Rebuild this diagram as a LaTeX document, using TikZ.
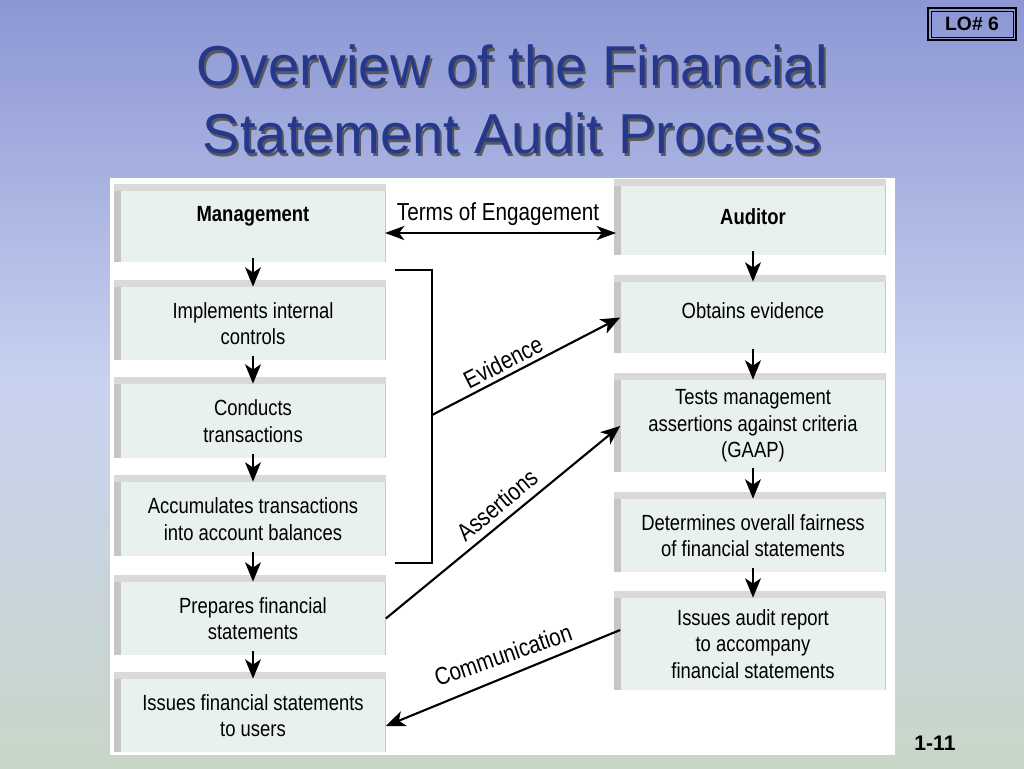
\documentclass[tikz,border=0pt]{standalone}
\usepackage{fontspec}
\setmainfont{Liberation Sans}
\newfontfamily\cond[FakeStretch=0.84]{Liberation Sans}
\usetikzlibrary{arrows.meta}
\definecolor{boxfill}{RGB}{232,241,238}
\definecolor{titleblue}{RGB}{38,56,140}
\tikzset{
    stepbox/.style={fill=boxfill,minimum width=5.3cm,align=center,font=\cond\fontsize{12.5}{15}\selectfont,inner sep=0pt},
    flow/.style={-{Stealth[length=11pt,width=9pt,inset=3pt]},line width=1.2pt},
    link/.style={{Stealth[length=11pt,width=8pt,inset=3pt]}-{Stealth[length=11pt,width=8pt,inset=3pt]},line width=1.2pt},
    tag/.style={font=\cond\fontsize{14}{16}\selectfont}
}
\begin{document}
\begin{tikzpicture}[x=0.02cm,y=-0.02cm]
    \useasboundingbox (0,0) rectangle (1024,768);
    % fond
    \shade[top color={rgb,255:red,140;green,150;blue,212},bottom color={rgb,255:red,200;green,214;blue,200},middle color={rgb,255:red,200;green,210;blue,240}] (0,0) rectangle (1024,768);
    \draw[line width=1pt] (928,8) rectangle (1016,40);
    \draw (931,11) rectangle (1013,37);
    \node[font=\bfseries\fontsize{11}{13}\selectfont] at (972,24) {LO\# 6};
    \node[font=\bfseries\fontsize{12}{14}\selectfont] at (935,743) {1-11};
    \foreach \t/\y in {Overview of the Financial/65,Statement Audit Process/133}{
        \node[gray!70!black,font=\fontsize{32}{38}\selectfont] at (514,\y+3) {\t};
        \node[titleblue,font=\fontsize{32}{38}\selectfont] at (512,\y) {\t};}
    \fill[white] (110,178) rectangle (895,755);
    % cases
    \foreach \n/\xa/\ya/\yb/\dy/\t in {
        m/120/187/262/10/{\bfseries Management},
        m1/120/283/360/0/{Implements internal\\controls},
        m2/120/380/458/0/{Conducts\\transactions},
        m3/120/478/556/0/{Accumulates transactions\\into account balances},
        m4/120/578/655/0/{Prepares financial\\statements},
        m5/120/675/752/0/{Issues financial statements\\to users},
        a/620/182/255/4/{\bfseries Auditor},
        a1/620/278/353/7/{Obtains evidence},
        a2/620/376/472/0/{Tests management\\assertions against criteria\\(GAAP)},
        a3/620/495/572/0/{Determines overall fairness\\of financial statements},
        a4/620/594/690/0/{Issues audit report\\to accompany\\financial statements}}{
        \fill[gray!45] (\xa-6,\ya) rectangle (\xa+266,\yb);
        \fill[gray!30] (\xa-6,\ya-3) rectangle (\xa+266,\ya+4);
        \node[stepbox,minimum height={(\yb-\ya-4)*0.02cm}] (\n) at (\xa+133,{(\ya+\yb)/2+2}) {};
        \node[stepbox,fill=none] at ([yshift=\dy*0.02cm]\n.center) {\t};}
    \foreach \p/\q in {m/m1,m1/m2,m2/m3,m3/m4,m4/m5,a/a1,a1/a2,a2/a3,a3/a4}
        \draw[flow] (\p.south) ++(0,-4) -- (\q.north);
    % liens
    \coordinate (t1) at (385,233);
    \coordinate (t2) at (616,233);
    \draw[link] (t1) -- (t2);
    \node[tag] at (498,214) {Terms of Engagement};
    \draw[line width=1.2pt] (395,270) -- (432,270) coordinate (b1) -- (432,563) -- (395,563);
    \coordinate (ev) at (432,415);
    \draw[flow] (ev) -- (a1.west);
    \draw[flow] (m4.east) -- (a2.west);
    \draw[flow] (a4.west) ++(0,-14) -- ([yshift=-6]m5.east);
    \node[tag,rotate=27] at (503,362) {Evidence};
    \node[tag,rotate=40] at (497,505) {Assertions};
    \node[tag,rotate=19] at (503,655) {Communication};
\end{tikzpicture}
\end{document}
